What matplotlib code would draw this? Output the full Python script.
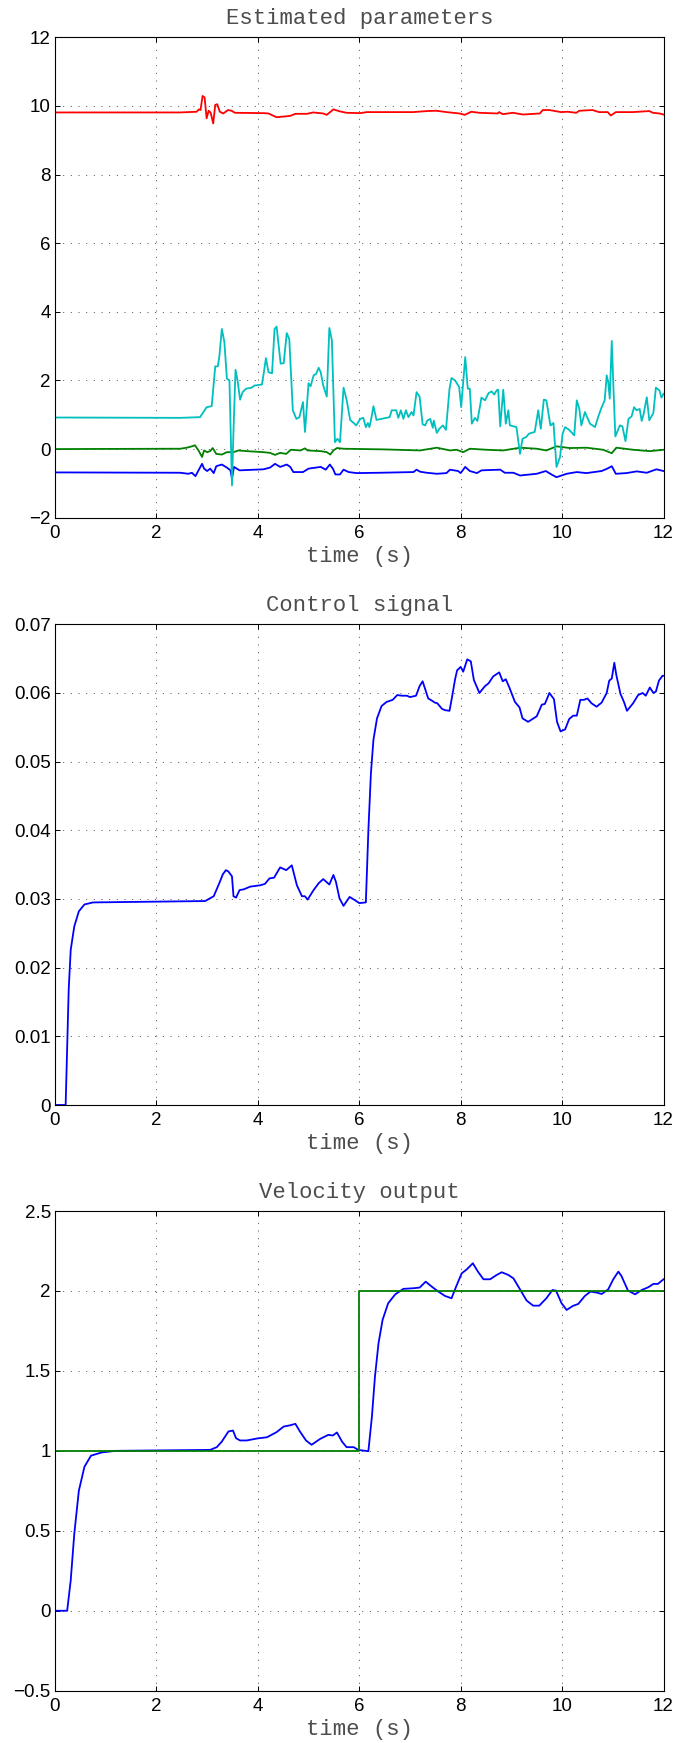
import matplotlib
matplotlib.use("Agg")
import matplotlib.pyplot as plt

# ────────────────────────────────────────────────
#  DATA
# ────────────────────────────────────────────────

# Estimated parameters: four traces
t_par_blue = [0, 2.47, 2.63, 2.70, 2.77, 2.83, 2.90, 2.94, 3.00, 3.06, 3.13, 3.18, 3.29, 3.39, 3.46,
              3.49, 3.53, 3.64, 4.11, 4.24, 4.34, 4.44, 4.57, 4.64, 4.70, 4.89, 5.00, 5.24, 5.34,
              5.42, 5.48, 5.53, 5.62, 5.69, 5.79, 5.95, 6.41, 7.07, 7.13, 7.20, 7.33, 7.53, 7.72,
              7.79, 7.95, 8.00, 8.09, 8.18, 8.32, 8.41, 8.78, 8.87, 9.04, 9.17, 9.50, 9.68, 9.79,
              9.89, 10.09, 10.29, 10.48, 10.78, 10.89, 10.98, 11.06, 11.27, 11.47, 11.67, 11.86, 12.0]
p_blue = [-0.68, -0.69, -0.72, -0.69, -0.79, -0.62, -0.43, -0.57, -0.64, -0.57, -0.70, -0.50, -0.45,
          -0.54, -0.62, -0.86, -0.52, -0.62, -0.59, -0.54, -0.43, -0.52, -0.45, -0.52, -0.67, -0.67,
          -0.57, -0.52, -0.60, -0.45, -0.57, -0.74, -0.74, -0.60, -0.67, -0.70, -0.69, -0.67, -0.60,
          -0.66, -0.69, -0.72, -0.70, -0.60, -0.64, -0.70, -0.52, -0.64, -0.70, -0.62, -0.60, -0.69,
          -0.69, -0.77, -0.72, -0.64, -0.74, -0.82, -0.72, -0.67, -0.70, -0.64, -0.57, -0.50, -0.72,
          -0.70, -0.65, -0.69, -0.59, -0.64]

t_par_green = [0, 2.47, 2.60, 2.70, 2.76, 2.83, 2.90, 2.94, 3.00, 3.06, 3.11, 3.18, 3.29, 3.39, 3.52,
               3.62, 3.78, 4.11, 4.24, 4.34, 4.44, 4.56, 4.65, 4.84, 4.93, 4.98, 5.24, 5.36, 5.43,
               5.49, 5.56, 5.69, 6.5, 7.20, 7.53, 7.79, 7.92, 8.05, 8.18, 8.51, 8.84, 9.17, 9.50,
               9.69, 9.89, 10.15, 10.48, 10.81, 10.98, 11.07, 11.40, 11.73, 12.0]
p_green = [0.0, 0.01, 0.04, 0.08, 0.11, -0.04, -0.23, -0.04, -0.09, -0.06, 0.03, -0.14, -0.16, -0.09,
           -0.09, -0.04, -0.06, -0.09, -0.11, -0.17, -0.11, -0.14, -0.02, -0.04, 0.02, -0.04, -0.06,
           -0.09, -0.16, -0.04, 0.03, 0.01, -0.01, -0.04, 0.04, -0.04, -0.02, -0.09, 0.01, -0.02,
           -0.04, 0.04, 0.01, -0.04, 0.08, 0.03, 0.04, -0.02, -0.12, 0.04, -0.02, -0.06, -0.02]

t_par_red = [0, 2.46, 2.79, 2.84, 2.87, 2.91, 2.95, 2.99, 3.03, 3.07, 3.12, 3.16, 3.20, 3.25, 3.32,
             3.41, 3.48, 3.55, 4.11, 4.21, 4.37, 4.64, 4.74, 4.97, 5.09, 5.29, 5.36, 5.49, 5.62,
             5.75, 6.02, 6.15, 7.06, 7.33, 7.52, 7.72, 7.98, 8.08, 8.21, 8.37, 8.73, 8.76, 8.83,
             9.03, 9.23, 9.56, 9.62, 9.75, 9.98, 10.11, 10.28, 10.34, 10.60, 10.73, 10.90, 10.96,
             11.06, 11.39, 11.72, 11.79, 11.92, 12.0]
p_red = [9.81, 9.81, 9.83, 9.90, 9.88, 10.29, 10.25, 9.64, 9.86, 9.80, 9.49, 10.03, 10.05, 9.83, 9.78,
         9.88, 9.86, 9.80, 9.79, 9.78, 9.67, 9.71, 9.77, 9.77, 9.81, 9.78, 9.74, 9.90, 9.84, 9.80,
         9.79, 9.82, 9.82, 9.85, 9.86, 9.82, 9.78, 9.74, 9.83, 9.80, 9.78, 9.82, 9.76, 9.80, 9.75,
         9.78, 9.88, 9.88, 9.82, 9.83, 9.80, 9.86, 9.88, 9.82, 9.82, 9.72, 9.82, 9.82, 9.85, 9.80,
         9.78, 9.75]

t_par_cyan = [0, 2.47, 2.86, 2.99, 3.09, 3.16, 3.21, 3.24, 3.29, 3.34, 3.39, 3.44, 3.49, 3.52, 3.56,
              3.60, 3.65, 3.70, 3.77, 3.88, 3.93, 4.08, 4.11, 4.16, 4.21, 4.28, 4.33, 4.37, 4.45,
              4.51, 4.57, 4.62, 4.69, 4.76, 4.82, 4.89, 4.93, 5.00, 5.04, 5.10, 5.15, 5.20, 5.24,
              5.29, 5.36, 5.41, 5.46, 5.52, 5.57, 5.62, 5.69, 5.75, 5.82, 5.89, 5.94, 6.02, 6.08,
              6.13, 6.17, 6.20, 6.23, 6.28, 6.34, 6.54, 6.60, 6.64, 6.73, 6.77, 6.82, 6.87, 6.92,
              6.97, 7.03, 7.07, 7.13, 7.19, 7.25, 7.30, 7.34, 7.40, 7.45, 7.47, 7.53, 7.58, 7.65,
              7.71, 7.78, 7.82, 7.89, 7.97, 8.01, 8.09, 8.14, 8.18, 8.22, 8.28, 8.33, 8.41, 8.48,
              8.55, 8.61, 8.66, 8.71, 8.74, 8.78, 8.84, 8.89, 8.94, 8.97, 9.10, 9.17, 9.22, 9.29,
              9.35, 9.46, 9.53, 9.58, 9.64, 9.69, 9.77, 9.83, 9.89, 9.96, 10.01, 10.06, 10.14, 10.24,
              10.29, 10.34, 10.38, 10.45, 10.55, 10.65, 10.71, 10.78, 10.84, 10.88, 10.91, 10.94,
              10.98, 11.01, 11.05, 11.14, 11.19, 11.25, 11.31, 11.37, 11.42, 11.47, 11.53, 11.57,
              11.61, 11.67, 11.72, 11.80, 11.85, 11.92, 11.96, 12.0]
p_cyan = [0.92, 0.91, 0.93, 1.22, 1.25, 2.41, 2.41, 2.68, 3.50, 3.12, 2.05, 2.00, -1.06, 0.54, 2.31,
          2.00, 1.44, 1.66, 1.76, 1.79, 1.85, 1.88, 2.15, 2.65, 2.24, 2.21, 3.50, 3.57, 2.49, 2.50,
          3.38, 3.21, 1.13, 0.88, 0.93, 1.37, 0.50, 1.92, 1.83, 2.15, 2.19, 2.37, 2.24, 1.85, 1.53,
          3.53, 3.17, 0.20, 0.30, 0.20, 1.79, 1.44, 0.85, 0.76, 0.69, 0.88, 0.91, 0.64, 0.76, 0.64,
          0.83, 1.25, 0.85, 0.91, 0.93, 1.13, 1.13, 0.91, 1.13, 0.88, 1.13, 0.93, 1.08, 0.98, 1.66,
          1.53, 0.72, 0.69, 0.83, 0.88, 0.62, 0.83, 0.47, 0.59, 0.69, 0.56, 1.76, 2.07, 2.00, 1.81,
          1.22, 2.68, 1.76, 1.76, 0.74, 0.91, 0.82, 1.50, 1.42, 1.63, 1.68, 1.59, 1.71, 1.73, 0.66,
          1.73, 0.74, 1.13, 0.69, 0.64, -0.14, 0.30, 0.35, 0.45, 0.50, 1.13, 0.59, 1.44, 1.42, 0.69,
          0.76, -0.52, -0.23, 0.45, 0.64, 0.56, 0.40, 1.42, 1.17, 0.69, 1.08, 0.74, 0.64, 0.93, 1.22,
          1.42, 2.15, 1.95, 1.47, 3.15, 1.90, 0.37, 0.69, 0.66, 0.23, 0.88, 0.95, 1.22, 1.13, 1.17,
          0.82, 1.03, 1.51, 0.84, 1.05, 1.79, 1.71, 1.50, 1.61]

# Control signal
t_ctrl = [0, 0.21, 0.27, 0.31, 0.38, 0.47, 0.58, 0.75, 2.96, 3.13, 3.24, 3.31, 3.37, 3.42, 3.49,
          3.52, 3.57, 3.64, 3.72, 3.85, 4.05, 4.14, 4.23, 4.32, 4.44, 4.56, 4.67, 4.77, 4.87,
          4.93, 4.98, 5.10, 5.20, 5.29, 5.41, 5.49, 5.54, 5.61, 5.69, 5.81, 5.92, 6.00, 6.13,
          6.18, 6.23, 6.28, 6.35, 6.44, 6.54, 6.66, 6.75, 6.84, 6.94, 7.00, 7.12, 7.19, 7.25,
          7.36, 7.43, 7.49, 7.54, 7.63, 7.69, 7.78, 7.82, 7.89, 7.93, 8.00, 8.05, 8.13, 8.20,
          8.26, 8.37, 8.48, 8.55, 8.64, 8.76, 8.83, 8.89, 8.96, 9.07, 9.16, 9.22, 9.33, 9.50,
          9.60, 9.66, 9.75, 9.84, 9.90, 9.97, 10.06, 10.14, 10.22, 10.29, 10.36, 10.43, 10.50,
          10.58, 10.68, 10.78, 10.88, 10.93, 10.98, 11.03, 11.07, 11.15, 11.22, 11.28, 11.40,
          11.50, 11.59, 11.65, 11.73, 11.80, 11.85, 11.91, 11.98, 12.0]
u_ctrl = [0.0, 0.0, 0.0168, 0.0226, 0.0260, 0.0282, 0.0292, 0.0295, 0.0297, 0.0304, 0.0323, 0.0336,
          0.0342, 0.0340, 0.0333, 0.0304, 0.0302, 0.0313, 0.0314, 0.0318, 0.0320, 0.0322, 0.0330,
          0.0331, 0.0346, 0.0342, 0.0349, 0.0320, 0.0304, 0.0304, 0.0299, 0.0313, 0.0323, 0.0329,
          0.0321, 0.0335, 0.0325, 0.0301, 0.0290, 0.0303, 0.0298, 0.0294, 0.0295, 0.0400, 0.0483,
          0.0532, 0.0563, 0.0581, 0.0587, 0.0590, 0.0597, 0.0596, 0.0596, 0.0594, 0.0596, 0.0610,
          0.0617, 0.0592, 0.0589, 0.0586, 0.0585, 0.0577, 0.0575, 0.0574, 0.0590, 0.0620, 0.0633,
          0.0638, 0.0631, 0.0649, 0.0646, 0.0619, 0.0600, 0.0610, 0.0614, 0.0624, 0.0630, 0.0617,
          0.0620, 0.0608, 0.0587, 0.0579, 0.0563, 0.0558, 0.0566, 0.0583, 0.0584, 0.0600, 0.0591,
          0.0558, 0.0544, 0.0547, 0.0562, 0.0567, 0.0567, 0.0590, 0.0590, 0.0592, 0.0585, 0.0580,
          0.0586, 0.0600, 0.0618, 0.0621, 0.0644, 0.0626, 0.0599, 0.0587, 0.0574, 0.0585, 0.0597,
          0.0600, 0.0596, 0.0608, 0.0600, 0.0602, 0.0618, 0.0625, 0.0625]

# Velocity output and reference
t_vel = [0, 0.24, 0.31, 0.38, 0.47, 0.58, 0.71, 0.92, 1.19, 3.06, 3.19, 3.29, 3.42, 3.51, 3.57,
         3.65, 3.78, 3.98, 4.18, 4.37, 4.51, 4.64, 4.74, 4.83, 4.95, 5.06, 5.23, 5.39, 5.48, 5.56,
         5.66, 5.75, 5.89, 5.98, 6.07, 6.18, 6.25, 6.31, 6.38, 6.46, 6.57, 6.71, 6.87, 7.07, 7.19,
         7.31, 7.43, 7.56, 7.69, 7.82, 7.91, 8.02, 8.12, 8.24, 8.34, 8.45, 8.58, 8.71, 8.81, 8.94,
         9.04, 9.17, 9.30, 9.43, 9.55, 9.69, 9.81, 9.88, 9.99, 10.09, 10.21, 10.32, 10.45, 10.56,
         10.68, 10.78, 10.91, 11.01, 11.11, 11.17, 11.30, 11.44, 11.57, 11.70, 11.80, 11.89, 12.0]
v_out = [0.0, 0.0, 0.19, 0.48, 0.75, 0.90, 0.97, 0.99, 1.0, 1.006, 1.023, 1.058, 1.121, 1.127,
         1.079, 1.065, 1.065, 1.077, 1.085, 1.117, 1.152, 1.160, 1.169, 1.121, 1.065, 1.038, 1.075,
         1.100, 1.096, 1.115, 1.058, 1.023, 1.023, 1.006, 1.002, 0.998, 1.215, 1.465, 1.673, 1.819,
         1.923, 1.979, 2.013, 2.017, 2.021, 2.058, 2.027, 1.996, 1.969, 1.954, 2.027, 2.110, 2.135,
         2.173, 2.121, 2.073, 2.073, 2.100, 2.117, 2.100, 2.079, 2.010, 1.940, 1.908, 1.908, 1.954,
         2.006, 2.002, 1.923, 1.881, 1.906, 1.919, 1.969, 1.996, 1.990, 1.981, 2.010, 2.073, 2.121,
         2.094, 2.002, 1.979, 2.006, 2.023, 2.044, 2.044, 2.073]

t_ref = [0, 6.0, 6.0, 12.0]
v_ref = [1.0, 1.0, 2.0, 2.0]

# ────────────────────────────────────────────────
#  STYLE
# ────────────────────────────────────────────────

M_BLUE = (0, 0, 1)
M_GREEN = (0, 0.5, 0)
M_RED = (1, 0, 0)
M_CYAN = (0, 0.75, 0.75)
LW = 1.3

TICK_FONT = "Liberation Sans"
LABEL_FONT = "Liberation Mono"
TEXT_GREY = "0.3"


def style_axes(ax, title, ylim, yticks, h_px):
    ax.set_xlim(0, 12)
    ax.set_ylim(*ylim)
    ax.set_xticks(range(0, 13, 2))
    ax.set_yticks(yticks)
    ax.grid(True, color="0.2", linestyle=(0, (1.2, 8.0)), linewidth=0.6)
    ax.tick_params(direction="in", top=True, right=True, length=3.6, width=0.7,
                   labelsize=13.5, pad=3)
    ax.tick_params(axis="x", pad=5)
    for lab in ax.get_xticklabels() + ax.get_yticklabels():
        lab.set_fontfamily(TICK_FONT)
    for sp in ax.spines.values():
        sp.set_linewidth(0.8)
    ax.text(0.5, 1 + 13 / h_px, title, transform=ax.transAxes, ha="center", va="baseline",
            fontsize=16, family=LABEL_FONT, color=TEXT_GREY)
    ax.set_xlabel("time (s)", fontsize=16, family=LABEL_FONT, color=TEXT_GREY)
    ax.xaxis.set_label_coords(0.5, -44 / h_px)
    ax.xaxis.label.set_va("baseline")


fig = plt.figure(figsize=(6.94, 17.43), dpi=100)
H = 1743.0
left, width = 55 / 694, 608.5 / 694

ax1 = fig.add_axes([left, 1 - 517.7 / H, width, 480.4 / H])
ax2 = fig.add_axes([left, 1 - 1105.0 / H, width, 480.7 / H])
ax3 = fig.add_axes([left, 1 - 1690.7 / H, width, 479.7 / H])

# Estimated parameters
ax1.plot(t_par_blue, p_blue, color=M_BLUE, lw=LW)
ax1.plot(t_par_green, p_green, color=M_GREEN, lw=LW)
ax1.plot(t_par_red, p_red, color=M_RED, lw=LW)
ax1.plot(t_par_cyan, p_cyan, color=M_CYAN, lw=LW)
style_axes(ax1, "Estimated parameters", (-2, 12), range(-2, 13, 2), 480.4)

# Control signal
ax2.plot(t_ctrl, u_ctrl, color=M_BLUE, lw=LW)
style_axes(ax2, "Control signal", (0, 0.07), [0, 0.01, 0.02, 0.03, 0.04, 0.05, 0.06, 0.07], 480.7)
ax2.set_yticklabels(["0", "0.01", "0.02", "0.03", "0.04", "0.05", "0.06", "0.07"],
                    family=TICK_FONT)

# Velocity output
ax3.plot(t_vel, v_out, color=M_BLUE, lw=LW)
ax3.plot(t_ref, v_ref, color=M_GREEN, lw=LW)
style_axes(ax3, "Velocity output", (-0.5, 2.5), [-0.5, 0, 0.5, 1, 1.5, 2, 2.5], 479.7)
ax3.set_yticklabels(["\u22120.5", "0", "0.5", "1", "1.5", "2", "2.5"], family=TICK_FONT)

fig.savefig("out.png", dpi=100)
